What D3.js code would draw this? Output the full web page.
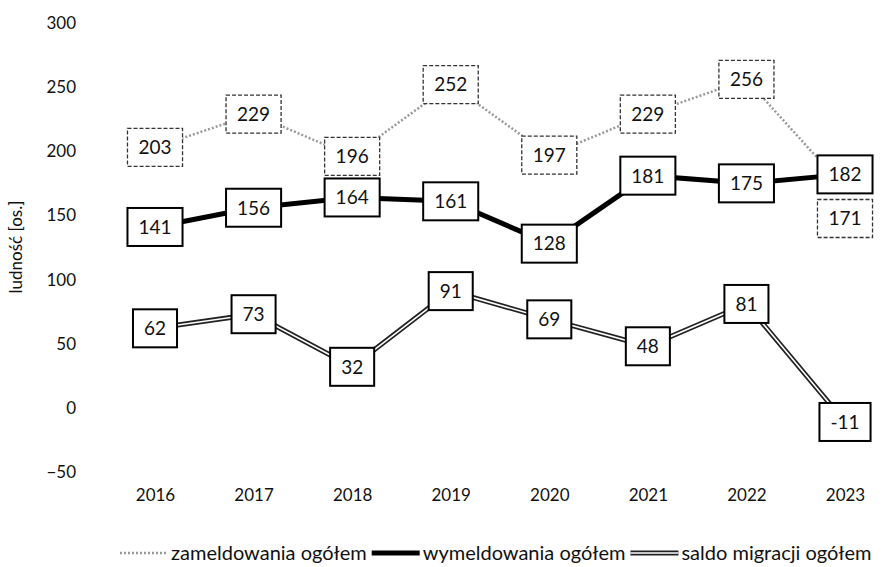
<!DOCTYPE html>
<html>
<head>
<meta charset="utf-8">
<script src="https://cdn.jsdelivr.net/npm/d3@7"></script>
<style>
  body { margin: 0; background: #fff; }
  text { font-family: Lato, "Open Sans", sans-serif; fill: #111; }
</style>
</head>
<body>
<div class="chart"></div>
<script>
// Chart data
var years = ["2016", "2017", "2018", "2019", "2020", "2021", "2022", "2023"];
var zameldowania = [203, 229, 196, 252, 197, 229, 256, 171];
var wymeldowania = [141, 156, 164, 161, 128, 181, 175, 182];
var saldo = [62, 73, 32, 91, 69, 48, 81, -11];
var yTicks = [-50, 0, 50, 100, 150, 200, 250, 300];
var seriesNames = ["zameldowania ogółem", "wymeldowania ogółem", "saldo migracji ogółem"];

var width = 883,
    height = 567;

var svg = d3.select(".chart").append("svg")
    .attr("width", width)
    .attr("height", height);

var x = d3.scalePoint().domain(years).range([155, 845]),
    y = d3.scaleLinear().domain([-50, 300]).range([472, 23]);

// y axis labels only
var yAxis = svg.append("g")
    .attr("transform", "translate(76,0)")
    .call(d3.axisLeft(y).tickValues(yTicks).tickSize(0).tickPadding(0));
yAxis.select(".domain").remove();
yAxis.selectAll("text")
    .style("font-size", "17px")
    .style("font-family", "Lato, sans-serif")
    .attr("fill", "#111");

var xAxis = svg.append("g")
    .attr("transform", "translate(0,495)")
    .call(d3.axisBottom(x).tickSize(0).tickPadding(0));
xAxis.select(".domain").remove();
xAxis.selectAll("text")
    .attr("dy", "0.35em")
    .style("font-size", "17px")
    .style("font-family", "Lato, sans-serif")
    .attr("fill", "#111");

svg.append("text")
    .attr("transform", "rotate(-90)")
    .attr("x", -247)
    .attr("y", 22)
    .style("text-anchor", "middle")
    .style("font-size", "17px")
    .text("ludność [os.]");

var line = d3.line()
    .x(function(d, i) { return x(years[i]); })
    .y(function(d) { return y(d); });

// line styles
var styles = [
  {data: zameldowania, layers: [{stroke: "#999", w: 2.5, dash: "2,2"}], box: "4,2", boxStroke: "#333"},
  {data: wymeldowania, layers: [{stroke: "#000", w: 5}], box: null, boxStroke: "#000"},
  {data: saldo, layers: [{stroke: "#222", w: 5}, {stroke: "#fff", w: 1.6}], box: null, boxStroke: "#000"}
];

styles.forEach(function(s) {
  s.layers.forEach(function(l) {
    svg.append("path")
      .datum(s.data)
      .attr("fill", "none")
      .attr("stroke", l.stroke)
      .attr("stroke-width", l.w)
      .attr("stroke-dasharray", l.dash || null)
      .attr("d", line);
  });
});

// label shifts (to avoid overlap)
var shift = {"0-7": 30};

styles.forEach(function(s, si) {
  var g = svg.append("g");
  s.data.forEach(function(v, i) {
    var cx = x(years[i]),
        cy = y(v) + (shift[si + "-" + i] || 0);
    var lab = g.append("g").attr("transform", "translate(" + cx + "," + cy + ")");
    var rect = lab.append("rect");
    var t = lab.append("text")
      .attr("text-anchor", "middle")
      .attr("dy", "0.36em")
      .style("font-size", "19px")
      .text(v);
    var w = t.node().getComputedTextLength() + 22;
    rect.attr("x", -w / 2).attr("y", -19)
      .attr("width", w).attr("height", 38)
      .attr("fill", "#fff")
      .attr("stroke", s.boxStroke)
      .attr("stroke-width", s.box ? 1.3 : 2)
      .attr("stroke-dasharray", s.box);
  });
});

// legend, laid out left to right
var legend = svg.append("g").attr("transform", "translate(0,553)");
var lx = 120;
seriesNames.forEach(function(name, i) {
  var lg = legend.append("g").attr("transform", "translate(" + lx + ",0)");
  styles[i].layers.forEach(function(l) {
    lg.append("line")
      .attr("x1", 0).attr("x2", 48)
      .attr("stroke", l.stroke)
      .attr("stroke-width", l.w)
      .attr("stroke-dasharray", l.dash || null);
  });
  var t = lg.append("text")
    .attr("x", 51)
    .attr("dy", "0.35em")
    .style("font-size", "20px")
    .text(name);
  lx += 51 + t.node().getComputedTextLength() + 5;
});
</script>
</body>
</html>
